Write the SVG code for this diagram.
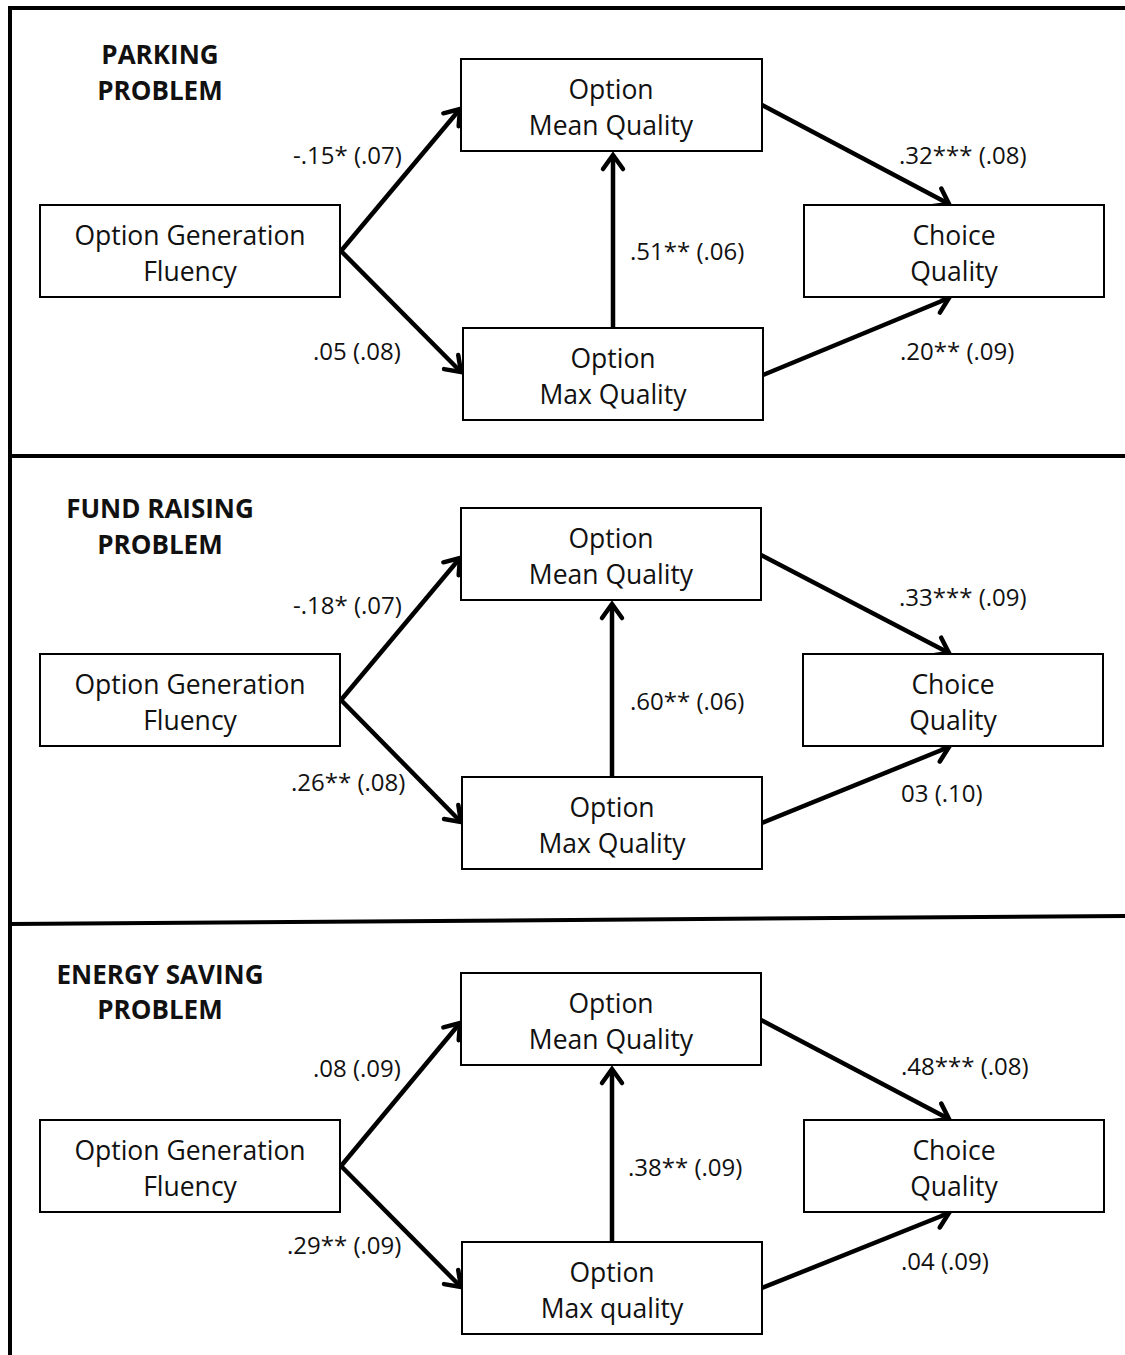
<svg xmlns="http://www.w3.org/2000/svg" width="1125" height="1355" viewBox="0 0 1125 1355">
<defs>
<marker id="ah" markerUnits="userSpaceOnUse" markerWidth="30" markerHeight="30" viewBox="-20 -15 25 30" refX="0" refY="0" orient="auto">
<path d="M -14 -10 L 0 0 L -14 10" fill="none" stroke="#000" stroke-width="4.5" stroke-linecap="round" stroke-linejoin="miter"/>
</marker>
<style>
.box{fill:#fff;stroke:#000;stroke-width:2}
.t{font-family:"Open Sans","Liberation Sans",sans-serif;font-size:26.5px;fill:#111;text-anchor:middle}
.l{font-family:"Open Sans","Liberation Sans",sans-serif;font-size:24px;fill:#111}
.h{font-family:"Open Sans","Liberation Sans",sans-serif;font-size:26px;font-weight:bold;fill:#111;text-anchor:middle}
.c{stroke:#000;stroke-width:4.5;fill:none;marker-end:url(#ah)}
.f{stroke:#000;stroke-width:4;fill:none}
</style>
</defs>
<rect width="1125" height="1355" fill="#fff"/>
<g id="frame">
<path class="f" d="M 10 1355 L 10 8 L 1125 8"/>
<path class="f" d="M 10 456 L 1125 456"/>
<path class="f" d="M 10 924 L 1125 916"/>
</g>
<g id="titles">
<text class="h" x="160" y="64">PARKING</text>
<text class="h" x="160" y="100">PROBLEM</text>
<text class="h" x="160" y="518">FUND RAISING</text>
<text class="h" x="160" y="554">PROBLEM</text>
<text class="h" x="160" y="984">ENERGY SAVING</text>
<text class="h" x="160" y="1019">PROBLEM</text>
</g>
<g id="connectors">
<line class="c" x1="341" y1="251" x2="460" y2="109"/>
<line class="c" x1="341" y1="251" x2="461" y2="372"/>
<line class="c" x1="613" y1="328" x2="613" y2="155"/>
<line class="c" x1="762" y1="105" x2="949" y2="204"/>
<line class="c" x1="763" y1="375" x2="949" y2="298"/>
<line class="c" x1="341" y1="700" x2="460" y2="558"/>
<line class="c" x1="341" y1="700" x2="461" y2="822"/>
<line class="c" x1="612" y1="777" x2="612" y2="604"/>
<line class="c" x1="761" y1="555" x2="949" y2="653"/>
<line class="c" x1="762" y1="823" x2="949" y2="747"/>
<line class="c" x1="341" y1="1166" x2="460" y2="1023"/>
<line class="c" x1="341" y1="1166" x2="461" y2="1287"/>
<line class="c" x1="612" y1="1242" x2="612" y2="1069"/>
<line class="c" x1="761" y1="1020" x2="949" y2="1119"/>
<line class="c" x1="762" y1="1288" x2="949" y2="1213"/>
</g>
<g id="labels">
<text class="l" x="293" y="164">-.15* (.07)</text>
<text class="l" x="313" y="360">.05 (.08)</text>
<text class="l" x="630" y="260">.51** (.06)</text>
<text class="l" x="899" y="164">.32*** (.08)</text>
<text class="l" x="900" y="360">.20** (.09)</text>
<text class="l" x="293" y="614">-.18* (.07)</text>
<text class="l" x="291" y="791">.26** (.08)</text>
<text class="l" x="630" y="710">.60** (.06)</text>
<text class="l" x="899" y="606">.33*** (.09)</text>
<text class="l" x="901" y="802">03 (.10)</text>
<text class="l" x="313" y="1077">.08 (.09)</text>
<text class="l" x="287" y="1254">.29** (.09)</text>
<text class="l" x="628" y="1176">.38** (.09)</text>
<text class="l" x="901" y="1075">.48*** (.08)</text>
<text class="l" x="901" y="1270">.04 (.09)</text>
</g>
<g id="p1-ogf"><rect class="box" x="40" y="205" width="300" height="92"/><text class="t" x="190" y="245">Option Generation</text><text class="t" x="190" y="281">Fluency</text></g>
<g id="p1-mean"><rect class="box" x="461" y="59" width="301" height="92"/><text class="t" x="611" y="99">Option</text><text class="t" x="611" y="135">Mean Quality</text></g>
<g id="p1-max"><rect class="box" x="463" y="328" width="300" height="92"/><text class="t" x="613" y="368">Option</text><text class="t" x="613" y="404">Max Quality</text></g>
<g id="p1-choice"><rect class="box" x="804" y="205" width="300" height="92"/><text class="t" x="954" y="245">Choice</text><text class="t" x="954" y="281">Quality</text></g>
<g id="p2-ogf"><rect class="box" x="40" y="654" width="300" height="92"/><text class="t" x="190" y="694">Option Generation</text><text class="t" x="190" y="730">Fluency</text></g>
<g id="p2-mean"><rect class="box" x="461" y="508" width="300" height="92"/><text class="t" x="611" y="548">Option</text><text class="t" x="611" y="584">Mean Quality</text></g>
<g id="p2-max"><rect class="box" x="462" y="777" width="300" height="92"/><text class="t" x="612" y="817">Option</text><text class="t" x="612" y="853">Max Quality</text></g>
<g id="p2-choice"><rect class="box" x="803" y="654" width="300" height="92"/><text class="t" x="953" y="694">Choice</text><text class="t" x="953" y="730">Quality</text></g>
<g id="p3-ogf"><rect class="box" x="40" y="1120" width="300" height="92"/><text class="t" x="190" y="1160">Option Generation</text><text class="t" x="190" y="1196">Fluency</text></g>
<g id="p3-mean"><rect class="box" x="461" y="973" width="300" height="92"/><text class="t" x="611" y="1013">Option</text><text class="t" x="611" y="1049">Mean Quality</text></g>
<g id="p3-max"><rect class="box" x="462" y="1242" width="300" height="92"/><text class="t" x="612" y="1282">Option</text><text class="t" x="612" y="1318">Max quality</text></g>
<g id="p3-choice"><rect class="box" x="804" y="1120" width="300" height="92"/><text class="t" x="954" y="1160">Choice</text><text class="t" x="954" y="1196">Quality</text></g>
</svg>
